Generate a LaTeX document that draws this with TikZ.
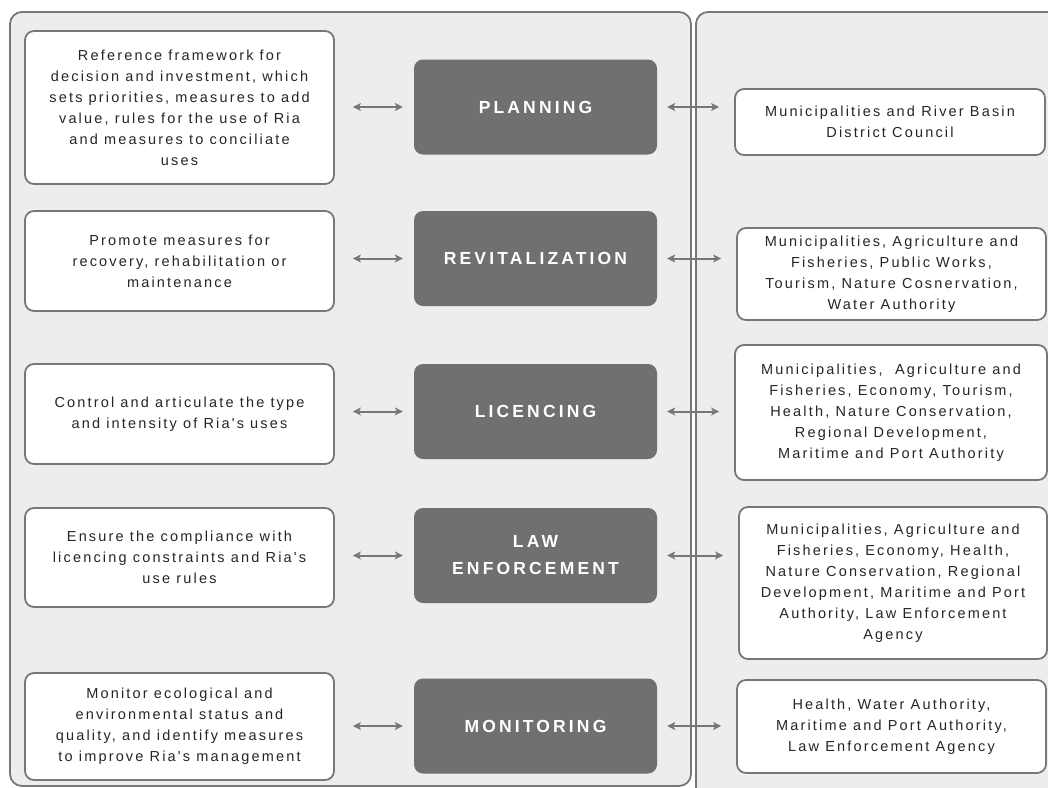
\documentclass[tikz,border=0pt]{standalone}
\usepackage{fontspec}
\setmainfont{Liberation Sans}
\newfontfamily\bodyfont{Liberation Sans}[LetterSpace=15]
\newfontfamily\headfont{Liberation Sans}[LetterSpace=18]
\usetikzlibrary{arrows.meta}
\definecolor{panelgray}{HTML}{EDEDED}
\definecolor{linegray}{HTML}{777777}
\definecolor{headgray}{HTML}{707070}
\definecolor{txtgray}{HTML}{262626}
\begin{document}
\begin{tikzpicture}[x=1pt,y=-1pt,
		infobox/.style={draw=linegray,line width=1.8pt,fill=white,rounded corners=9pt,align=center,inner sep=0pt,font=\bodyfont\fontsize{14.5}{21}\selectfont,text=txtgray},
		headbox/.style={fill=headgray,rounded corners=9pt,align=center,inner sep=0pt,minimum width=243pt,minimum height=95pt,font=\headfont\bfseries\fontsize{17.5}{27}\selectfont,text=white},
		link/.style={linegray,line width=2pt,{Stealth[length=8pt,width=8pt,inset=2pt]}-{Stealth[length=8pt,width=8pt,inset=2pt]}}]
			\useasboundingbox (0,0) rectangle (1048,787);
			\clip (0,0) rectangle (1048,787);
			
			\draw [draw=linegray,line width=1.8pt,fill=panelgray,rounded corners=12pt] (10,12) rectangle (691,786);
			\draw [draw=linegray,line width=1.8pt,fill=panelgray,rounded corners=12pt] (696,12) rectangle (1075,810);
			
			% tasks
			\node[infobox,minimum width=309pt,minimum height=153pt] (goal1) at (179.5,107.5) {Reference framework for\\decision and investment, which\\sets priorities, measures to add\\value, rules for the use of Ria\\and measures to conciliate\\uses};
			\node[infobox,minimum width=309pt,minimum height=100pt] (goal2) at (179.5,261) {Promote measures for\\recovery, rehabilitation or\\maintenance};
			\node[infobox,minimum width=309pt,minimum height=100pt] (goal3) at (179.5,414) {Control and articulate the type\\and intensity of Ria's uses};
			\node[infobox,minimum width=309pt,minimum height=99pt] (goal4) at (179.5,557.5) {Ensure the compliance with\\licencing constraints and Ria's\\use rules};
			\node[infobox,minimum width=309pt,minimum height=107pt] (goal5) at (179.5,726.5) {Monitor ecological and\\environmental status and\\quality, and identify measures\\to improve Ria's management};
			
			% functions
			\node[headbox] (role1) at (535.5,107) {PLANNING};
			\node[headbox] (role2) at (535.5,258.5) {REVITALIZATION};
			\node[headbox] (role3) at (535.5,411.5) {LICENCING};
			\node[headbox] (role4) at (535.5,555.5) {LAW\\ENFORCEMENT};
			\node[headbox] (role5) at (535.5,726) {MONITORING};
			
			% bodies
			\node[infobox,minimum width=310pt,minimum height=66pt] (actor1) at (890,122) {Municipalities and River Basin\\District Council};
			\node[infobox,minimum width=309pt,minimum height=92pt] (actor2) at (891.5,274) {Municipalities, Agriculture and\\Fisheries, Public Works,\\Tourism, Nature Cosnervation,\\Water Authority};
			\node[infobox,minimum width=312pt,minimum height=135pt] (actor3) at (891,412.5) {Municipalities,\ \ Agriculture and\\Fisheries, Economy, Tourism,\\Health, Nature Conservation,\\Regional Development,\\Maritime and Port Authority};
			\node[infobox,minimum width=308pt,minimum height=152pt] (actor4) at (893,583) {Municipalities, Agriculture and\\Fisheries, Economy, Health,\\Nature Conservation, Regional\\Development, Maritime and Port\\Authority, Law Enforcement\\Agency};
			\node[infobox,minimum width=309pt,minimum height=93pt] (actor5) at (891.5,726.5) {Health, Water Authority,\\Maritime and Port Authority,\\Law Enforcement Agency};
			
			\foreach \i in {1,...,5} {
				\draw[link,shorten <=18pt,shorten >=11pt] (goal\i.east |- role\i.west) -- (role\i.west);
				\draw[link,shorten <=10pt,shorten >=15pt] (role\i.east) -- (role\i.east -| actor\i.west);
			}
		\end{tikzpicture}
\end{document}
